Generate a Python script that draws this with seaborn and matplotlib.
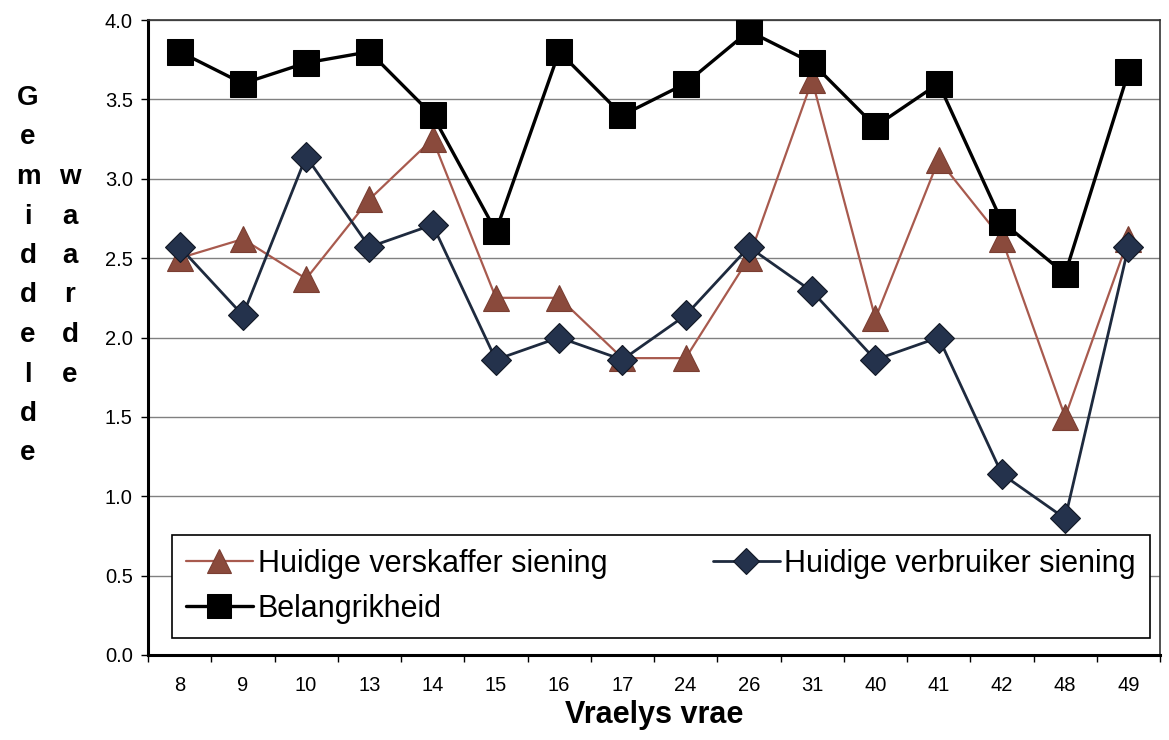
import matplotlib
matplotlib.use("Agg")
import matplotlib.pyplot as plt
import seaborn as sns
import numpy as np
import pandas as pd
from matplotlib.ticker import FixedLocator

categories = ["8", "9", "10", "13", "14", "15", "16", "17", "24", "26", "31", "40", "41", "42", "48", "49"]
verskaffer = [2.50, 2.62, 2.37, 2.87, 3.25, 2.25, 2.25, 1.87, 1.87, 2.50, 3.62, 2.12, 3.12, 2.62, 1.50, 2.62]
verbruiker = [2.57, 2.14, 3.14, 2.57, 2.71, 1.86, 2.00, 1.86, 2.14, 2.57, 2.29, 1.86, 2.00, 1.14, 0.86, 2.57]
belangrikheid = [3.80, 3.60, 3.73, 3.80, 3.40, 2.67, 3.80, 3.40, 3.60, 3.93, 3.73, 3.33, 3.60, 2.73, 2.40, 3.67]
series_names = ["Huidige verskaffer siening", "Huidige verbruiker siening", "Belangrikheid"]
y_ticks = [0.0, 0.5, 1.0, 1.5, 2.0, 2.5, 3.0, 3.5, 4.0]
x_label = "Vraelys vrae"
y_label_1 = "Gemiddelde"
y_label_2 = "waarde"

sns.set_theme(style="white")
plt.rcParams['font.family'] = ['Liberation Sans', 'DejaVu Sans']
plt.rcParams['text.color'] = 'black'
plt.rcParams['axes.labelcolor'] = 'black'
plt.rcParams['xtick.color'] = 'black'
plt.rcParams['ytick.color'] = 'black'

W, H = 1169, 740
fig = plt.figure(figsize=(W / 100, H / 100), dpi=100)
L, R, T, B = 148, 1160, 20, 655
ax = fig.add_axes([L / W, 1 - B / H, (R - L) / W, (B - T) / H])

pos = np.arange(len(categories))
df = pd.DataFrame({"pos": pos, "v1": verskaffer, "v2": verbruiker, "v3": belangrikheid})

sns.lineplot(data=df, x="pos", y="v1", ax=ax, color="#a85a4e", lw=1.6,
             marker="^", markersize=19, markerfacecolor="#8a4a3c", markeredgecolor="#7a3e32",
             markeredgewidth=0.8, label=series_names[0], zorder=3)
sns.lineplot(data=df, x="pos", y="v2", ax=ax, color="#1e2a3e", lw=2.0,
             marker="D", markersize=15, markerfacecolor="#24324c", markeredgecolor="#111825",
             markeredgewidth=0.8, label=series_names[1], zorder=4)
sns.lineplot(data=df, x="pos", y="v3", ax=ax, color="#000000", lw=2.4,
             marker="s", markersize=19, markerfacecolor="#000000", markeredgecolor="#000000",
             label=series_names[2], zorder=5)

ax.set_xlim(-0.5, len(categories) - 0.5)
ax.set_ylim(0, 4.0)
ax.set_yticks(y_ticks)
ax.set_yticklabels([f"{v:.1f}" for v in y_ticks], fontsize=14.5)
ax.grid(axis="y", color="#808080", lw=1.0)
ax.set_axisbelow(True)

ax.set_xticks(pos)
ax.set_xticklabels(categories, fontsize=14.5)
ax.xaxis.set_minor_locator(FixedLocator(np.arange(-0.5, len(categories), 1.0)))
ax.tick_params(axis="x", which="major", length=0, pad=15)
ax.tick_params(axis="x", which="minor", length=5, width=1, color="#000000", direction="out", bottom=True)
ax.tick_params(axis="y", which="major", length=5, width=1, color="#000000", direction="out", left=True, pad=6)

for side in ["left", "bottom"]:
    ax.spines[side].set_color("#000000")
    ax.spines[side].set_linewidth(2.2)
for side in ["top", "right"]:
    ax.spines[side].set_color("#333333")
    ax.spines[side].set_linewidth(1.2)

ax.set_xlabel(x_label, fontsize=22, fontweight="bold", labelpad=4)
ax.set_ylabel("")

handles, labels = ax.get_legend_handles_labels()
order = [0, 2, 1]
leg = ax.legend([handles[i] for i in order], [labels[i] for i in order],
                loc="lower left", bbox_to_anchor=(0.0237, 0.027, 0.966, 0.19), mode="expand",
                ncol=2, frameon=True, fancybox=False, edgecolor="#000000", facecolor="white",
                framealpha=1, prop={"size": 22}, handlelength=2.2,
                handletextpad=0.15, borderpad=0.45, labelspacing=0.5, markerscale=0.9,
                borderaxespad=0)
leg.get_frame().set_linewidth(1.2)

# stacked vertical y-axis label letters
y0 = 98
step = 39.5
for i, ch in enumerate(y_label_1):
    fig.text(28 / W, 1 - (y0 + i * step) / H, ch, fontsize=20, fontweight="bold",
             ha="center", va="center")
for i, ch in enumerate(y_label_2):
    fig.text(70 / W, 1 - (y0 + (i + 2) * step) / H, ch, fontsize=20, fontweight="bold",
             ha="center", va="center")

fig.savefig("out.png", dpi=100, facecolor="white")
